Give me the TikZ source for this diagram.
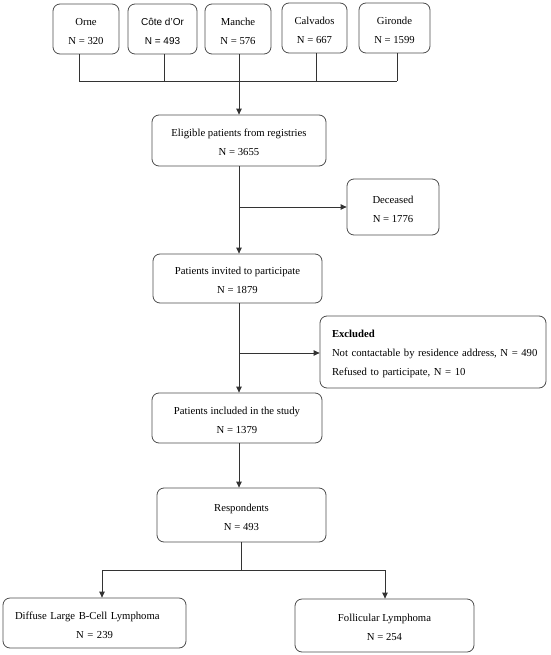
\documentclass[tikz,border=0pt]{standalone}
\usepackage{fontspec}
\setmainfont{Liberation Serif}
\setsansfont{Liberation Sans}
\usetikzlibrary{arrows.meta}
\newcommand{\toppad}{\rule{0pt}{11.5pt}}
\begin{document}
\begin{tikzpicture}[x=1pt,y=-1pt,font=\fontsize{10.7}{19}\selectfont,
  box/.style={draw=black!70,line width=0.8pt,rounded corners=7pt,align=center,inner sep=0pt},
  conn/.style={draw=black!80,line width=0.85pt},
  arr/.style={conn,-{Triangle[length=6pt,width=5.5pt]}}]
\useasboundingbox (0,0) rectangle (550,655);
% top registries
\node[box,minimum width=66pt,minimum height=50pt] (orne) at (86,29) {\toppad Orne\\N = 320};
\node[box,minimum width=69pt,minimum height=50pt,font=\sffamily\fontsize{10}{19}\selectfont] (cote) at (162.5,29) {\toppad Côte d'Or\\N = 493};
\node[box,minimum width=66pt,minimum height=50pt] (manche) at (238,29) {\toppad Manche\\N = 576};
\node[box,minimum width=65pt,minimum height=50pt] (calv) at (314.5,28) {\toppad Calvados\\N = 667};
\node[box,minimum width=71pt,minimum height=50pt] (gir) at (394.5,28) {\toppad Gironde\\N = 1599};
% main column
\node[box,minimum width=174pt,minimum height=51pt] (elig) at (239,140.5) {\toppad Eligible patients from registries\\N = 3655};
\node[box,minimum width=92pt,minimum height=56pt] (dec) at (393,207) {\toppad Deceased\\N = 1776};
\node[box,minimum width=169pt,minimum height=49pt] (inv) at (237.5,278.5) {\toppad Patients invited to participate\\N = 1879};
\node[box,minimum width=226pt,minimum height=72pt,align=left,text width=202pt] (exc) at (433,352) {\toppad\textbf{Excluded}\\\mbox{Not contactable by residence address, N = 490}\\\mbox{Refused to participate, N = 10}};
\node[box,minimum width=170pt,minimum height=50pt] (inc) at (237,418) {\toppad Patients included in the study\\N = 1379};
\node[box,minimum width=169pt,minimum height=54pt] (resp) at (241.5,515) {\toppad Respondents\\N = 493};
\node[box,minimum width=183pt,minimum height=50pt,text width=159pt] (dlbcl) at (94.5,623) {\toppad\makebox[\linewidth][l]{Diffuse Large B-Cell Lymphoma}\\N = 239};
\node[box,minimum width=179pt,minimum height=53pt] (fol) at (384.5,625.5) {\toppad Follicular Lymphoma\\N = 254};
% bus from registries
\coordinate (b1) at (79,81);
\coordinate (b2) at (164,81);
\coordinate (b3) at (239,81);
\coordinate (b4) at (316,81);
\coordinate (b5) at (397,81);
\draw[conn] (b1 |- orne.south) -- (b1);
\draw[conn] (b2 |- cote.south) -- (b2);
\draw[conn] (b3 |- manche.south) -- (b3);
\draw[conn] (b4 |- calv.south) -- (b4);
\draw[conn] (b5 |- gir.south) -- (b5);
\draw[conn] (b1) -- (b5);
\draw[arr] (b3) -- (b3 |- elig.north);
% eligible -> invited, deceased branch
\coordinate (s1) at (239,207);
\draw[arr] (b3 |- elig.south) -- (b3 |- inv.north);
\draw[arr] (s1) -- (dec.west |- s1);
% invited -> included, excluded branch
\coordinate (s2) at (239,353);
\draw[arr] (s2 |- inv.south) -- (s2 |- inc.north);
\draw[arr] (s2) -- (exc.west |- s2);
% included -> respondents
\draw[arr] (s2 |- inc.south) -- (s2 |- resp.north);
% split
\coordinate (s3) at (241,570);
\coordinate (l3) at (102,570);
\coordinate (r3) at (385,570);
\draw[conn] (s3 |- resp.south) -- (s3);
\draw[conn] (l3) -- (r3);
\draw[arr] (l3) -- (l3 |- dlbcl.north);
\draw[arr] (r3) -- (r3 |- fol.north);
\end{tikzpicture}
\end{document}
